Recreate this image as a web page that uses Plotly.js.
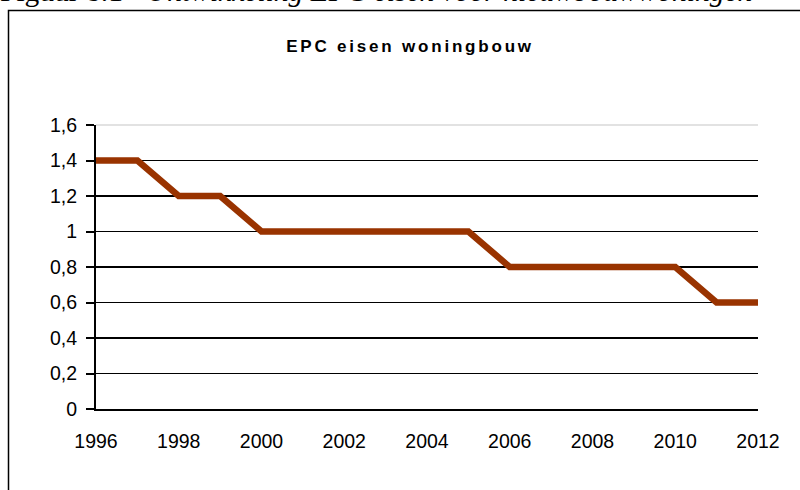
<!DOCTYPE html>
<html>
<head>
<meta charset="utf-8">
<script src="https://cdn.plot.ly/plotly-3.0.1.min.js"></script>
<style>
html,body{margin:0;padding:0;background:#fff;}
#chart{width:800px;height:490px;}
</style>
</head>
<body>
<div id="chart"></div>
<script>
// Data
const years = [1996,1997,1998,1999,2000,2001,2002,2003,2004,2005,2006,2007,2008,2009,2010,2011,2012];
const epcValues = [1.4,1.4,1.2,1.2,1.0,1.0,1.0,1.0,1.0,1.0,0.8,0.8,0.8,0.8,0.8,0.6,0.6];
const xTickValues = [1996,1998,2000,2002,2004,2006,2008,2010,2012];
const yTickValues = [0,0.2,0.4,0.6,0.8,1.0,1.2,1.4,1.6];
const chartTitle = 'EPC eisen woningbouw';
const captionNumber = 'Figuur 8.1';
const captionText = 'Ontwikkeling EPC eisen voor nieuwbouwwoningen';

// Layout geometry (pixels)
const W = 800, H = 490;
const L = 96, R = 42, T = 125, B = 81;
const pw = W - L - R, ph = H - T - B;
const px = x => (x - L) / pw;
const py = y => (H - B - y) / ph;

const trace = {
  x: years,
  y: epcValues,
  type: 'scatter',
  mode: 'lines',
  line: {color: '#993300', width: 6.5},
  hoverinfo: 'skip'
};

const layout = {
  width: W, height: H,
  margin: {l: L, r: R, t: T, b: B, pad: 0},
  paper_bgcolor: '#fff',
  plot_bgcolor: '#fff',
  separators: ',.',
  showlegend: false,
  font: {family: 'Arial, Liberation Sans, sans-serif', color: '#000'},
  title: {
    text: '<b>' + chartTitle + '</b>',
    font: {family: 'Arial, Liberation Sans, sans-serif', size: 17, color: '#000'},
    xref: 'container', x: 410 / W, xanchor: 'center',
    yref: 'container', y: 1 - 46 / H, yanchor: 'middle'
  },
  xaxis: {
    type: 'linear',
    range: [1996, 2012],
    tickmode: 'array',
    tickvals: xTickValues,
    ticktext: xTickValues.map(String),
    ticks: '',
    showgrid: false,
    zeroline: false,
    showline: true,
    linecolor: '#000',
    linewidth: 2,
    tickfont: {size: 19.5, color: '#000'},
    ticklabelstandoff: 14,
    fixedrange: true
  },
  yaxis: {
    range: [0, 1.6],
    tickmode: 'array',
    tickvals: yTickValues,
    ticktext: yTickValues.map(v => String(v).replace('.', ',')),
    ticks: 'outside',
    ticklen: 8,
    tickwidth: 2,
    tickcolor: '#000',
    showgrid: true,
    gridcolor: '#000',
    gridwidth: 1.6,
    zeroline: false,
    showline: true,
    linecolor: '#000',
    linewidth: 2,
    tickfont: {size: 19.5, color: '#000'},
    ticklabelstandoff: 5,
    fixedrange: true
  },
  shapes: [
    // light top gridline
    {type: 'line', xref: 'paper', yref: 'paper', x0: 0, x1: 1, y0: 1, y1: 1,
     line: {color: '#d9d9d9', width: 1.5}, layer: 'above'},
    // outer frame of the chart
    {type: 'rect', xref: 'paper', yref: 'paper',
     x0: px(8.5), x1: px(820), y0: py(520), y1: py(10.5),
     line: {color: '#000', width: 1.5}, fillcolor: 'rgba(0,0,0,0)', layer: 'below'}
  ],
  annotations: [
    {text: captionNumber, xref: 'paper', yref: 'paper', x: px(-2), y: py(-9),
     xanchor: 'left', yanchor: 'middle', showarrow: false,
     font: {family: 'Liberation Serif, Times New Roman, serif', size: 29.5, color: '#000'}},
    {text: '<i>' + captionText + '</i>', xref: 'paper', yref: 'paper', x: px(144), y: py(-9),
     xanchor: 'left', yanchor: 'middle', showarrow: false,
     font: {family: 'Liberation Serif, Times New Roman, serif', size: 29.5, color: '#000'}}
  ]
};

Plotly.newPlot('chart', [trace], layout, {displayModeBar: false, staticPlot: true}).then(() => {
  const t = document.querySelector('.gtitle');
  if (t) t.style.letterSpacing = '2.8px';
});
</script>
</body>
</html>
